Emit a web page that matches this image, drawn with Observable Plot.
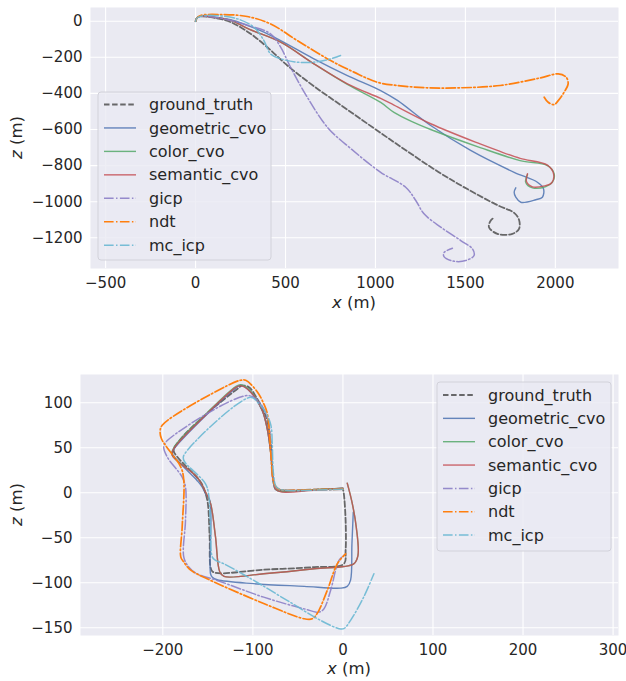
<!DOCTYPE html>
<html><head><meta charset="utf-8">
<script src="https://cdn.jsdelivr.net/npm/d3@7"></script>
<script src="https://cdn.jsdelivr.net/npm/@observablehq/plot@0.6"></script>
<style>
html,body{margin:0;padding:0;background:#fff;}
#wrap{width:626px;height:681px;position:relative;overflow:hidden;font-family:"DejaVu Sans",sans-serif}
svg{display:block}
</style></head><body><div id="wrap"></div>
<script>
// ---------- series names (legend order) ----------
const seriesNames = ["ground_truth","geometric_cvo","color_cvo","semantic_cvo","gicp","ndt","mc_icp"];

// ---------- tick values ----------
const topXTicks = [-500, 0, 500, 1000, 1500, 2000];
const topYTicks = [0, -200, -400, -600, -800, -1000, -1200];
const botXTicks = [-200, -100, 0, 100, 200, 300];
const botYTicks = [100, 50, 0, -50, -100, -150];

// ---------- top sequence: [x, z] in metres ----------
const topGroundTruth = [[0,0],[8,18],[30,27],[100,20],[195,-5],[306,-70],[399,-144],[510,-245],[658,-360],[844,-490],[1103,-670],[1350,-835],[1511,-930],[1680,-1020],[1771,-1062],[1798,-1100],[1798,-1150],[1761,-1178],[1678,-1178],[1631,-1141],[1641,-1104],[1659,-1088]];
const topGeometric = [[0,0],[8,18],[30,28],[100,22],[195,8],[280,-20],[361,-52],[473,-107],[658,-208],[844,-301],[1029,-384],[1122,-439],[1307,-578],[1529,-716],[1771,-837],[1900,-892],[1934,-928],[1928,-975],[1891,-989],[1808,-1003],[1780,-975],[1771,-947],[1780,-923]];
const topColor = [[0,0],[8,18],[30,28],[100,22],[195,5],[300,-45],[473,-116],[658,-236],[844,-350],[1029,-450],[1103,-505],[1200,-555],[1307,-600],[1582,-700],[1804,-772],[1956,-800],[1993,-845],[1984,-892],[1947,-916],[1873,-923],[1835,-892],[1845,-849]];
const topSemantic = [[0,0],[8,18],[30,28],[100,22],[195,5],[300,-45],[473,-116],[658,-236],[844,-347],[1029,-428],[1103,-465],[1307,-568],[1582,-680],[1678,-716],[1804,-760],[1956,-797],[1990,-845],[1980,-895],[1940,-912],[1873,-918],[1840,-890],[1845,-845]];
const topGicp = [[0,0],[8,18],[30,27],[150,15],[280,-20],[417,-70],[473,-144],[528,-255],[621,-421],[735,-590],[862,-705],[1029,-837],[1168,-920],[1224,-993],[1270,-1067],[1363,-1141],[1474,-1215],[1539,-1261],[1548,-1298],[1502,-1326],[1437,-1330],[1381,-1304],[1381,-1282],[1428,-1258]];
const topNdt = [[0,0],[8,18],[28,32],[139,37],[287,26],[417,-15],[565,-107],[751,-218],[880,-282],[1010,-338],[1122,-356],[1289,-369],[1471,-369],[1693,-356],[1916,-314],[2016,-292],[2060,-310],[2071,-347],[2049,-393],[2016,-440],[1993,-462],[1960,-449],[1938,-421]];
const topMcIcp = [[0,0],[8,18],[30,28],[102,32],[232,13],[324,-33],[380,-107],[417,-181],[473,-208],[565,-227],[658,-227],[732,-214],[806,-190]];

// ---------- bottom sequence: [x, z] in metres ----------
const botGroundTruth = [[0,4],[-28,3.7],[-66,2.6],[-73,4.4],[-76.7,12],[-78.5,28.5],[-80,54],[-84,80],[-88,91],[-95,104],[-104,117],[-112,119],[-117,115.6],[-151,88],[-180,60],[-188,47],[-184,40],[-158,12],[-153,0.7],[-150,-12],[-148,-49],[-146,-86],[-141.5,-89],[-88,-85.5],[-32,-82.6],[1,-79],[3,-64],[3,-31],[1,-1],[0,4]];
const botGeometric = [[0,5],[-30,3.5],[-69,1.5],[-75,4],[-77,10],[-80,43],[-84,71],[-89.6,91.5],[-102.6,112],[-113,119.5],[-118,117],[-150,88],[-188,48],[-189.6,44],[-162,13.7],[-156,6],[-152.6,-1],[-147.8,-8.5],[-147,-90],[-145,-94],[-139.6,-96.7],[-99,-101],[-43,-104],[-2.6,-106],[4.8,-104],[8.5,-97],[10,-57],[11.5,-21.5]];
const botColor = [[0,5],[-30,3.5],[-69,1.5],[-75,4],[-77,10],[-80,43],[-84,71],[-89.6,91.5],[-102.6,113],[-113.7,120],[-119,118],[-150.7,89],[-187.8,50],[-189.6,42],[-162,17.4],[-152.6,0.7],[-147,-12],[-141.5,-49],[-136.7,-88],[-132,-93],[-88,-90],[-32,-84.4],[12,-79],[16.7,-69.6],[14.8,-38],[10.4,-12],[4.8,10.7]];
const botSemantic = [[0,5],[-30,3],[-69,1],[-75,4],[-76.7,10],[-80,43],[-84,71],[-89.6,91.5],[-102.6,112],[-113.7,119],[-119,117],[-150.7,88],[-187.8,49],[-189.6,41.5],[-162,17.4],[-152.6,0.7],[-147,-12],[-141.5,-49],[-136.7,-88],[-132,-93],[-88,-90],[-32,-84.4],[12,-79],[16.7,-69.6],[14.8,-38],[10.4,-12],[4.8,10.7]];
const botGicp = [[0,4],[-30,3],[-66,3],[-74,5],[-78,15],[-80,50],[-83,80],[-91.6,99],[-105,108],[-195,58],[-199,51],[-195,39.6],[-178.5,17.4],[-174.8,6.3],[-174.8,-30.7],[-176.7,-71.5],[-171,-82.6],[-162,-90],[-139.6,-97.4],[-88,-116],[-43,-129],[-26.7,-132.6],[-21,-128.9],[-13.7,-108.5],[-4.4,-75],[1,-69.6]];
const botNdt = [[0,4],[-30,3.5],[-66,3],[-73,5],[-77,12],[-80,43],[-84,88],[-88,99],[-95,112],[-108,125],[-113.7,125],[-128.5,119],[-200.7,75],[-203,67],[-201.5,60],[-197,52.6],[-180,28.5],[-176.7,13.7],[-178.5,-38],[-180,-71.5],[-176.7,-77],[-169,-86],[-150.7,-95.6],[-88,-123],[-43,-140],[-34,-140],[-28.5,-134],[-17.4,-108.5],[-6.3,-79],[3,-67.8]];
const botMcIcp = [[0,4],[-30,3],[-66,3],[-73.8,6.3],[-77,20],[-78.5,55],[-80,75],[-86,89.6],[-93.3,99],[-102.7,106],[-176.7,41.5],[-176.7,36],[-152.6,10],[-149,-3],[-147,-40],[-145,-71.5],[-141.5,-75],[-132,-79],[-99,-97.4],[-62,-119.6],[-24.8,-141.8],[-4.4,-151],[1,-151],[8.5,-141.8],[23,-116],[34.4,-90]];

// ---------- styles ----------
const styles = {
  ground_truth:  {color:"#505050", width:1.8, dash:"5.5,2.6", opacity:0.85},
  geometric_cvo: {color:"#4c72b0", width:1.4, dash:null, opacity:0.85},
  color_cvo:     {color:"#55a868", width:1.4, dash:null, opacity:0.85},
  semantic_cvo:  {color:"#c44e52", width:1.4, dash:null, opacity:0.85},
  gicp:          {color:"#8c7fc6", width:1.5, dash:"9.6,2.4,1.5,2.4", opacity:0.9},
  ndt:           {color:"#ff7f0e", width:1.7, dash:"9.6,2.4,1.5,2.4", opacity:1},
  mc_icp:        {color:"#6ab8d3", width:1.5, dash:"9.6,2.4,1.5,2.4", opacity:0.9}
};

const fmt = d => String(d).replace("-", "\u2212");
const FONT = "DejaVu Sans";
const TXT = "#262626";

function makeChart(cfg) {
  const marks = [
    Plot.frame({fill:"#eaeaf2", stroke:null}),
    Plot.gridX(cfg.xticks, {stroke:"#ffffff", strokeOpacity:1, strokeWidth:1.1}),
    Plot.gridY(cfg.yticks, {stroke:"#ffffff", strokeOpacity:1, strokeWidth:1.1})
  ];
  seriesNames.forEach((n, i) => {
    const s = styles[n];
    marks.push(Plot.line(cfg.series[i], {
      x: d => d[0], y: d => d[1],
      stroke: s.color, strokeWidth: s.width, strokeOpacity: s.opacity,
      strokeDasharray: s.dash || undefined, curve: "catmull-rom"
    }));
  });
  marks.push(Plot.axisX(cfg.xticks, {tickSize:0, tickPadding:9, tickFormat: fmt, fontSize:15, fill:TXT, label:null}));
  marks.push(Plot.axisY(cfg.yticks, {tickSize:0, tickPadding:8, tickFormat: fmt, fontSize:15, fill:TXT, label:null}));
  const svg = Plot.plot({
    width: 626, height: cfg.height,
    marginTop: cfg.mt, marginBottom: cfg.mb, marginLeft: cfg.ml, marginRight: cfg.mr,
    style: {fontFamily: FONT, fontSize: "15px", color: TXT, background: "white", overflow: "visible"},
    x: {domain: cfg.xdomain, label: null},
    y: {domain: cfg.ydomain, label: null},
    marks
  });
  const sel = d3.select(svg);
  const plotL = cfg.ml, plotR = 626 - cfg.mr, plotT = cfg.mt, plotB = cfg.height - cfg.mb;
  // x label
  const xl = sel.append("text").attr("x", (plotL + plotR) / 2).attr("y", cfg.xLabelY)
    .attr("text-anchor", "middle").attr("dy", "0.35em")
    .attr("font-family", FONT).attr("font-size", 16.5).attr("fill", TXT);
  xl.append("tspan").attr("font-style", "italic").text("x");
  xl.append("tspan").text(" (m)");
  // y label
  const yl = sel.append("text")
    .attr("transform", `translate(16,${(plotT + plotB) / 2}) rotate(-90)`)
    .attr("text-anchor", "middle").attr("dy", "0.35em")
    .attr("font-family", FONT).attr("font-size", 16.5).attr("fill", TXT);
  yl.append("tspan").attr("font-style", "italic").text("z");
  yl.append("tspan").text(" (m)");
  // legend
  const lg = cfg.legend;
  const g = sel.append("g").attr("text-anchor", "start");
  g.append("rect").attr("x", lg.x).attr("y", lg.y).attr("width", lg.w).attr("height", lg.h)
    .attr("rx", 3).attr("fill", "#eaeaf2").attr("fill-opacity", 0.8)
    .attr("stroke", "#d2d2da").attr("stroke-width", 1);
  seriesNames.forEach((n, i) => {
    const s = styles[n];
    const cy = lg.first + i * lg.step;
    g.append("line").attr("x1", lg.lx1).attr("x2", lg.lx2).attr("y1", cy).attr("y2", cy)
      .attr("stroke", s.color).attr("stroke-width", s.width).attr("stroke-opacity", s.opacity)
      .attr("stroke-dasharray", s.dash || null);
    g.append("text").attr("x", lg.tx).attr("y", cy).attr("dy", "0.35em")
      .attr("text-anchor", "start")
      .attr("font-family", FONT).attr("font-size", 16).attr("fill", TXT).text(n);
  });
  return svg;
}

const wrap = document.getElementById("wrap");
wrap.appendChild(makeChart({
  height: 320, mt: 7, mb: 52, ml: 90, mr: 8,
  xdomain: [-584, 2351], ydomain: [-1370, 76],
  xticks: topXTicks, yticks: topYTicks,
  series: [topGroundTruth, topGeometric, topColor, topSemantic, topGicp, topNdt, topMcIcp],
  xLabelY: 302,
  legend: {x: 98, y: 92, w: 173, h: 168, first: 104.5, step: 23.45, lx1: 104, lx2: 136, tx: 149}
}));
wrap.appendChild(makeChart({
  height: 361, mt: 54, mb: 46, ml: 80, mr: 8,
  xdomain: [-291.4, 306], ydomain: [-158.6, 131.4],
  xticks: botXTicks, yticks: botYTicks,
  series: [botGroundTruth, botGeometric, botColor, botSemantic, botGicp, botNdt, botMcIcp],
  xLabelY: 348,
  legend: {x: 437, y: 382 - 320, w: 174, h: 169, first: 395 - 320, step: 23.35, lx1: 443, lx2: 475, tx: 488}
}));
</script></body></html>
